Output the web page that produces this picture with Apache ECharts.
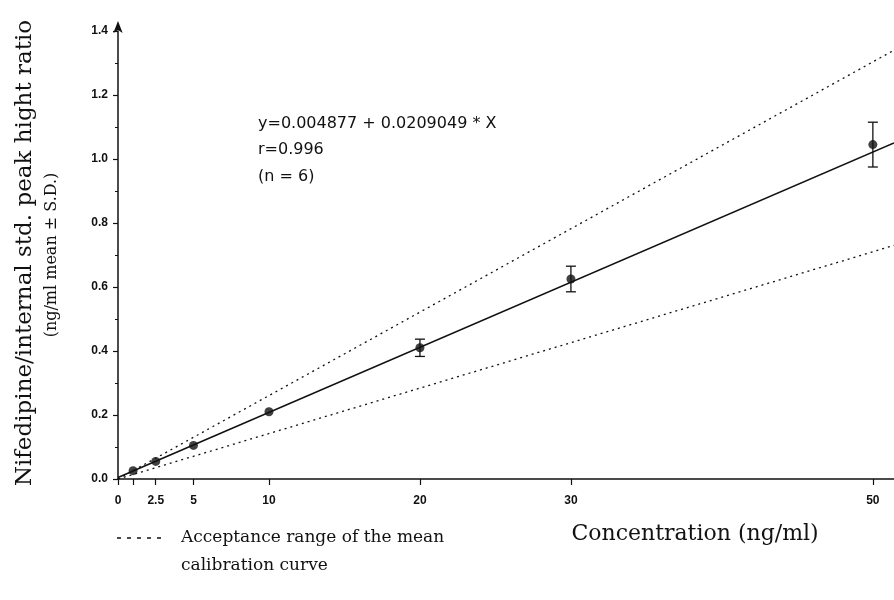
<!DOCTYPE html>
<html>
<head>
<meta charset="utf-8">
<script src="https://cdn.jsdelivr.net/npm/echarts@6/dist/echarts.min.js"></script>
<style>
  html, body { margin: 0; padding: 0; background: #fff; }
  #chart { width: 894px; height: 600px; }
</style>
</head>
<body>
<div id="chart"></div>
<script>
// values
const concentrations = [1, 2.5, 5, 10, 20, 30, 50];
const meanRatio = [0.026, 0.055, 0.105, 0.21, 0.41, 0.625, 1.045];
const sdRatio = [0, 0, 0, 0, 0.027, 0.04, 0.07];

// mean calibration curve and the acceptance range (end points)
const fitLine = [[0, 0.005], [51.4, 1.05]];
const upperLimit = [[0, 0], [51.4, 1.34]];
const lowerLimit = [[0, 0], [51.4, 0.73]];

const xTickValues = [0, 1, 2.5, 5, 10, 20, 30, 50];
const xLabelValues = [0, 2.5, 5, 10, 20, 30, 50];

const equationText = ["y=0.004877 + 0.0209049 * X", "r=0.996", "(n = 6)"];

const points = concentrations.map((c, i) => [c, meanRatio[i]]);
const errBars = concentrations.map((c, i) => [c, meanRatio[i], sdRatio[i]]);

const chart = echarts.init(document.getElementById("chart"), null, { renderer: "canvas" });

const ink = "#111";
const serif = "DejaVu Serif";

const option = {
  animation: false,
  backgroundColor: "#fff",
  grid: { left: 118, right: 0, top: 31, bottom: 121 },
  xAxis: {
    type: "value",
    min: 0,
    max: 51.4,
    axisLine: { onZero: false, lineStyle: { color: ink, width: 1.5 } },
    axisTick: { show: true, length: 6, inside: false, customValues: xTickValues, lineStyle: { color: ink, width: 1.2 } },
    axisLabel: {
      customValues: xLabelValues,
      margin: 16,
      color: ink,
      fontFamily: "Liberation Sans",
      fontSize: 12,
      fontWeight: "bold",
      formatter: (v) => String(v),
    },
    splitLine: { show: false },
  },
  yAxis: {
    type: "value",
    min: 0,
    max: 1.4,
    interval: 0.2,
    axisLine: {
      show: true,
      symbol: ["none", "arrow"],
      symbolSize: [7, 12],
      symbolOffset: [0, 10],
      lineStyle: { color: ink, width: 1.5 },
    },
    axisTick: { show: true, length: 5, lineStyle: { color: ink, width: 1.2 } },
    minorTick: { show: true, splitNumber: 2, length: 3, lineStyle: { color: ink, width: 1 } },
    axisLabel: {
      margin: 10,
      color: ink,
      fontFamily: "Liberation Sans",
      fontSize: 12,
      fontWeight: "bold",
      formatter: (v) => v.toFixed(1),
    },
    splitLine: { show: false },
  },
  series: [
    {
      type: "line",
      data: upperLimit,
      symbol: "none",
      lineStyle: { color: ink, width: 1.3, type: [2, 4] },
      z: 2,
    },
    {
      type: "line",
      data: lowerLimit,
      symbol: "none",
      lineStyle: { color: ink, width: 1.3, type: [2, 4] },
      z: 2,
    },
    {
      type: "line",
      data: fitLine,
      symbol: "none",
      lineStyle: { color: ink, width: 1.6 },
      z: 3,
    },
    {
      type: "custom",
      data: errBars,
      z: 4,
      renderItem: (params, api) => {
        const sd = api.value(2);
        if (!sd) return null;
        const x = api.value(0);
        const y = api.value(1);
        const top = api.coord([x, y + sd]);
        const bot = api.coord([x, y - sd]);
        const cap = 5;
        const style = { stroke: ink, lineWidth: 1.3 };
        return {
          type: "group",
          children: [
            { type: "line", shape: { x1: top[0], y1: top[1], x2: bot[0], y2: bot[1] }, style },
            { type: "line", shape: { x1: top[0] - cap, y1: top[1], x2: top[0] + cap, y2: top[1] }, style },
            { type: "line", shape: { x1: bot[0] - cap, y1: bot[1], x2: bot[0] + cap, y2: bot[1] }, style },
          ],
        };
      },
    },
    {
      type: "scatter",
      data: points,
      symbol: "circle",
      symbolSize: 9,
      itemStyle: { color: ink },
      z: 5,
    },
  ],
  graphic: [
    {
      type: "text",
      x: 25,
      y: 253,
      rotation: Math.PI / 2,
      style: {
        text: "Nifedipine/internal std. peak hight ratio",
        font: "23px '" + serif + "'",
        fill: ink,
        textAlign: "center",
        textVerticalAlign: "middle",
      },
    },
    {
      type: "text",
      x: 52,
      y: 255,
      rotation: Math.PI / 2,
      style: {
        text: "(ng/ml mean \u00b1 S.D.)",
        font: "16px '" + serif + "'",
        fill: ink,
        textAlign: "center",
        textVerticalAlign: "middle",
      },
    },
    {
      type: "text",
      x: 258,
      y: 124,
      style: { text: equationText[0], font: "16px 'DejaVu Sans'", fill: ink, textVerticalAlign: "middle" },
    },
    {
      type: "text",
      x: 258,
      y: 150,
      style: { text: equationText[1], font: "16px 'DejaVu Sans'", fill: ink, textVerticalAlign: "middle" },
    },
    {
      type: "text",
      x: 258,
      y: 177,
      style: { text: equationText[2], font: "16px 'DejaVu Sans'", fill: ink, textVerticalAlign: "middle" },
    },
    {
      type: "text",
      x: 695,
      y: 534,
      style: {
        text: "Concentration (ng/ml)",
        font: "22px '" + serif + "'",
        fill: ink,
        textAlign: "center",
        textVerticalAlign: "middle",
      },
    },
    {
      type: "line",
      shape: { x1: 117, y1: 538, x2: 166, y2: 538 },
      style: { stroke: ink, lineWidth: 1.3, lineDash: [4, 6] },
    },
    {
      type: "text",
      x: 181,
      y: 538,
      style: { text: "Acceptance range of the mean", font: "17px '" + serif + "'", fill: ink, textVerticalAlign: "middle" },
    },
    {
      type: "text",
      x: 181,
      y: 566,
      style: { text: "calibration curve", font: "17px '" + serif + "'", fill: ink, textVerticalAlign: "middle" },
    },
  ],
};

chart.setOption(option);
</script>
</body>
</html>
